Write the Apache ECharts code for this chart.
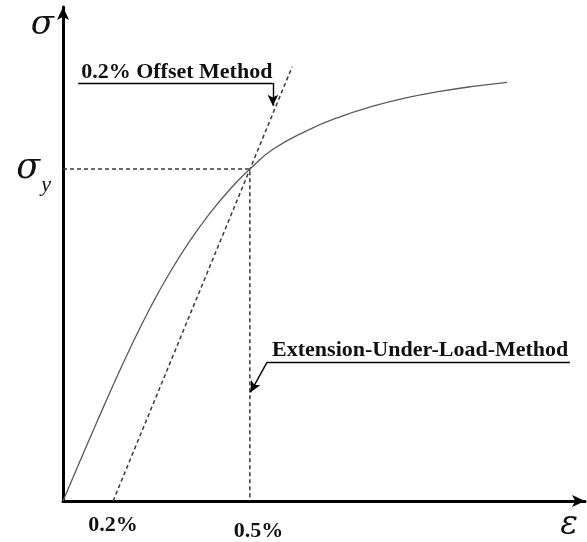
<!DOCTYPE html>
<html>
<head>
<meta charset="utf-8">
<script src="https://cdn.jsdelivr.net/npm/echarts@6/dist/echarts.min.js"></script>
<style>
  html, body { margin: 0; padding: 0; background: #fff; }
  #chart { width: 587px; height: 542px; }
</style>
</head>
<body>
<div id="chart"></div>
<script>
// Schematic stress–strain curve (arbitrary units on both axes, 0..100)
const curveStrain = [0, 3.26, 6.51, 9.58, 12.84, 16.67, 20.50, 24.33, 28.16, 31.99, 35.8, 40.23, 46.74, 53.07, 59.39, 65.90, 72.22, 78.54, 85.06];
const curveStress = [0, 8.08, 16.04, 23.37, 30.87, 39.03, 46.30, 52.69, 58.26, 63.11, 67.2, 71.19, 74.97, 77.78, 79.92, 81.64, 82.91, 83.92, 84.75];

// Yield point (sigma_y) where the offset line meets the curve
const yieldStrain = 35.8;
const yieldStress = 67.2;

// 0.2 % offset line: foot on the strain axis and its upper end
const offsetStrain = [9.6, 43.9];
const offsetStress = [0, 87.9];

// Strain axis tick labels
const strainTickValues = [9.6, 35.8];
const strainTickLabels = ['0.2%', '0.5%'];

// Stress axis tick label at the yield stress
const stressTickValues = [yieldStress];

const SERIF = '"Liberation Serif", "Times New Roman", serif';
const GREEK = '"DejaVu Serif", "Liberation Serif", serif';
const INK = '#111';
const DASH = '#3a3a3a';

const zip = (xs, ys) => xs.map((x, i) => [x, ys[i]]);

const chart = echarts.init(document.getElementById('chart'), null, { renderer: 'canvas' });

const option = {
  animation: false,
  backgroundColor: '#fff',
  grid: { left: 63, right: 2, top: 7, bottom: 40, containLabel: false },
  xAxis: {
    type: 'value', min: 0, max: 100,
    splitLine: { show: false },
    axisTick: { show: false },
    axisLine: {
      show: true, onZero: false,
      symbol: ['none', 'arrow'], symbolSize: [9, 13],
      lineStyle: { color: '#000', width: 3 }
    },
    axisLabel: {
      show: true,
      customValues: strainTickValues,
      margin: 13,
      formatter: (v) => {
        const i = strainTickValues.indexOf(v);
        return i === 1 ? '{b|' + strainTickLabels[i] + '}' : '{a|' + strainTickLabels[i] + '}';
      },
      rich: {
        a: { fontFamily: SERIF, fontWeight: 'bold', fontSize: 22, color: INK },
        b: { fontFamily: SERIF, fontWeight: 'bold', fontSize: 22, color: INK, padding: [6, 0, 0, 17] }
      }
    }
  },
  yAxis: {
    type: 'value', min: 0, max: 100,
    splitLine: { show: false },
    axisTick: { show: false },
    axisLine: {
      show: true, onZero: false,
      symbol: ['none', 'arrow'], symbolSize: [9, 13],
      lineStyle: { color: '#000', width: 3 }
    },
    axisLabel: {
      show: true,
      customValues: stressTickValues,
      margin: 12,
      padding: [10, 0, 0, 0],
      formatter: () => '{s|σ}{sub|y}',
      rich: {
        s: { fontFamily: GREEK, fontStyle: 'italic', fontSize: 35, color: INK, padding: [0, 0, 10, 0] },
        sub: { fontFamily: SERIF, fontStyle: 'italic', fontSize: 22, color: INK, verticalAlign: 'bottom', padding: [23, 0, 0, 1] }
      }
    }
  },
  series: [
    {
      name: 'curve', type: 'line', smooth: 0.5, showSymbol: false,
      data: zip(curveStrain, curveStress),
      lineStyle: { color: '#5a5a5a', width: 1.3 },
      z: 3
    },
    {
      name: 'offset', type: 'line', showSymbol: false,
      data: zip(offsetStrain, offsetStress),
      lineStyle: { color: DASH, width: 1.5, type: [4, 3] },
      z: 2
    },
    {
      name: 'yield guides', type: 'line', showSymbol: false,
      data: [[0, yieldStress], [yieldStrain, yieldStress], [yieldStrain, 0]],
      lineStyle: { color: DASH, width: 1.5, type: [4, 3] },
      z: 2,
      markLine: {
        silent: true,
        symbolSize: [8, 11],
        lineStyle: { color: '#000', width: 1.4, type: 'solid' },
        label: { show: false },
        data: [
          // leader for "0.2% Offset Method"
          [{ coord: [2.9, 84.6], symbol: 'none' }, { coord: [40.2, 84.6], symbol: 'none' }],
          [{ coord: [40.2, 84.6], symbol: 'none' }, { coord: [40.2, 80.0], symbol: 'arrow' }],
          // leader for "Extension-Under-Load-Method"
          [{ coord: [39.1, 28.1], symbol: 'none' }, { coord: [97.1, 28.1], symbol: 'none' }],
          [{ coord: [39.1, 28.1], symbol: 'none' }, { coord: [35.9, 22.0], symbol: 'arrow' }]
        ]
      }
    }
  ]
};

chart.setOption(option);

// Texts placed relative to the grid
const toPx = (p) => chart.convertToPixel({ gridIndex: 0 }, p);
const origin = toPx([0, 0]);
const yTop = toPx([0, 100]);
const xEnd = toPx([100, 0]);
const offsetNote = toPx([2.9, 84.6]);
const extNote = toPx([39.1, 28.1]);

chart.setOption({
  graphic: [
    {
      type: 'text', x: yTop[0] - 9, y: yTop[1] + 35,
      style: { text: 'σ', font: 'italic 34px ' + GREEK, fill: INK, align: 'right', verticalAlign: 'bottom' }
    },
    {
      type: 'text', x: xEnd[0] - 7, y: origin[1] + 41,
      style: { text: 'ε', font: 'italic 33px ' + GREEK, fill: INK, align: 'right', verticalAlign: 'bottom' }
    },
    {
      type: 'text', x: offsetNote[0] + 3, y: offsetNote[1] + 0.5,
      style: { text: '0.2% Offset Method', font: 'bold 22px ' + SERIF, fill: INK, align: 'left', verticalAlign: 'bottom' }
    },
    {
      type: 'text', x: extNote[0] + 5, y: extNote[1] - 0.5,
      style: { text: 'Extension-Under-Load-Method', font: 'bold 22px ' + SERIF, fill: INK, align: 'left', verticalAlign: 'bottom' }
    }
  ]
});
</script>
</body>
</html>
